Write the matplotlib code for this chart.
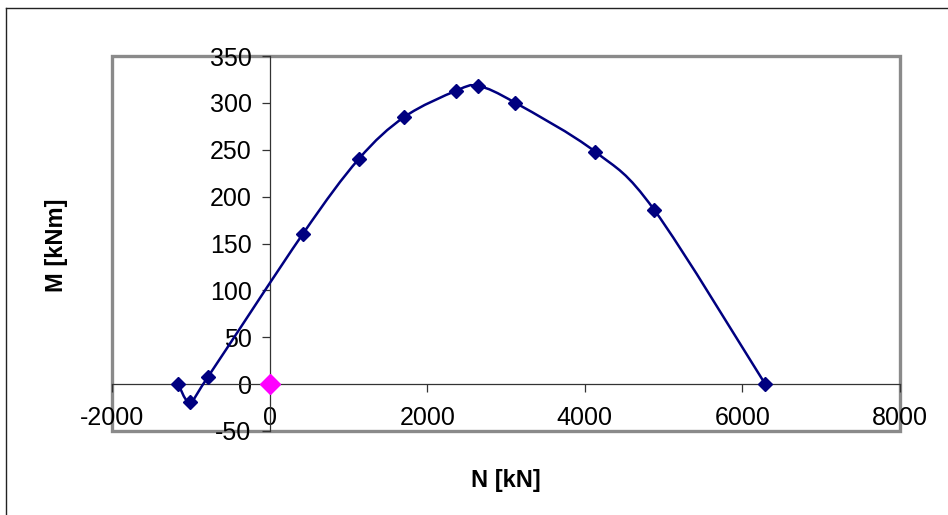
#!/usr/bin/env python3

import numpy as np
import matplotlib
matplotlib.use("Agg")
import matplotlib.pyplot as plt
from matplotlib.path import Path
from matplotlib.patches import PathPatch, Rectangle
from matplotlib.lines import Line2D

plt.rcParams['font.family'] = ['Liberation Sans', 'DejaVu Sans']

# Interaction diagram points (N in kN, M in kNm)
n_values = [-1160, -1010, -780, 420, 1130, 1710, 2370, 2650, 3120, 4130, 4880, 6290]
m_values = [0, -19, 8, 160, 240, 285, 313, 318, 300, 248, 186, 0]

# Design load point
n_load = [0]
m_load = [0]

x_ticks = [-2000, 0, 2000, 4000, 6000, 8000]
y_ticks = [-50, 0, 50, 100, 150, 200, 250, 300, 350]

fig = plt.figure(figsize=(9.48, 5.15), dpi=100)
ax = fig.add_axes([112 / 948, 84 / 515, 788 / 948, 375 / 515])

# Smoothed line like Excel (Bezier through the points)
pts = np.column_stack([n_values, m_values]).astype(float)
verts = [pts[0]]
codes = [Path.MOVETO]
for i in range(len(pts) - 1):
    p0 = pts[i - 1] if i > 0 else pts[i]
    p1 = pts[i]
    p2 = pts[i + 1]
    p3 = pts[i + 2] if i + 2 < len(pts) else pts[i + 1]
    verts += [p1 + (p2 - p0) / 6, p2 - (p3 - p1) / 6, p2]
    codes += [Path.CURVE4] * 3
ax.add_patch(PathPatch(Path(verts, codes), facecolor='none', edgecolor='#000080', lw=1.8, zorder=3))

ax.plot(n_values, m_values, linestyle='none', marker='D', markersize=7,
        color='#000080', zorder=4, clip_on=False)
ax.plot(n_load, m_load, linestyle='none', marker='D', markersize=10,
        color='#FF00FF', zorder=5, clip_on=False)

ax.set_xlim(-2000, 8000)
ax.set_ylim(-50, 350)
ax.set_xticks(x_ticks)
ax.set_yticks(y_ticks)
ax.set_xticklabels([str(v) for v in x_ticks])
ax.set_yticklabels([str(v) for v in y_ticks])

# Axes cross at zero
ax.spines['left'].set_position(('data', 0))
ax.spines['bottom'].set_position(('data', 0))
for s in ['left', 'bottom']:
    ax.spines[s].set_color('#333333')
    ax.spines[s].set_linewidth(0.9)
for s in ['top', 'right']:
    ax.spines[s].set_visible(False)
ax.tick_params(axis='both', direction='out', length=6, width=0.9, color='#333333',
               labelsize=18, labelcolor='black')
ax.tick_params(axis='y', pad=7)
ax.tick_params(axis='x', pad=10)

# Grey plot-area frame
ax.add_patch(Rectangle((0, 0), 1, 1, transform=ax.transAxes, facecolor='none',
                       edgecolor='#8a8a8a', lw=2.4, zorder=0.5, clip_on=False))

fig.text(57 / 948, 1 - 245 / 515, 'M [kNm]', rotation=90, ha='center', va='center',
         fontsize=17, fontweight='bold')
fig.text(506 / 948, 1 - 480 / 515, 'N [kN]', ha='center', va='center',
         fontsize=17, fontweight='bold')

# Chart-area border (top and left edges visible)
fig.add_artist(Line2D([6 / 948, 1], [1 - 8 / 515, 1 - 8 / 515], color='#222222', lw=1,
                      transform=fig.transFigure))
fig.add_artist(Line2D([6 / 948, 6 / 948], [0, 1 - 8 / 515], color='#222222', lw=1,
                      transform=fig.transFigure))

fig.savefig("out.png", dpi=100)
